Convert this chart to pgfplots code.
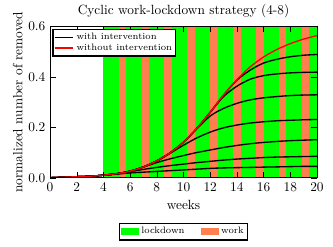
\documentclass[border=0pt]{standalone}
\usepackage{pgfplots}
\pgfplotsset{compat=1.18}
\definecolor{lgreen}{RGB}{0,255,0}
\definecolor{wcoral}{RGB}{255,127,80}
\begin{document}
\begin{tikzpicture}
\begin{axis}[
  name=main,
  scale only axis, width=200pt, height=113.3pt,
  xmin=0, xmax=20, ymin=0, ymax=0.6,
  xtick={0,2,...,20}, ytick={0,0.2,0.4,0.6},
  yticklabel style={/pgf/number format/.cd,fixed,fixed zerofill,precision=1},
  xlabel={weeks}, ylabel={normalized number of removed},
  ylabel style={yshift=-2.5pt},
  title={Cyclic work-lockdown strategy (4-8)},
  title style={yshift=-3pt},
  axis on top,
  tick style={black},
  legend cell align=left,
  legend style={at={(0.008,0.985)}, anchor=north west, font=\scriptsize,
    draw=black, line width=1pt, inner sep=0.8pt, row sep=-2.5pt},
  legend image code/.code={\draw[#1] (0pt,0pt) -- (14pt,0pt);},
]
% lockdown background
\addplot[fill=lgreen, draw=none, forget plot] coordinates {(4,0.6) (20,0.6)} \closedcycle;
% work stripes
\addplot[fill=wcoral, draw=none, forget plot] coordinates {(5.1429,0.6) (5.7143,0.6)} \closedcycle;
\addplot[fill=wcoral, draw=none, forget plot] coordinates {(6.8571,0.6) (7.4286,0.6)} \closedcycle;
\addplot[fill=wcoral, draw=none, forget plot] coordinates {(8.5714,0.6) (9.1429,0.6)} \closedcycle;
\addplot[fill=wcoral, draw=none, forget plot] coordinates {(10.2857,0.6) (10.8571,0.6)} \closedcycle;
\addplot[fill=wcoral, draw=none, forget plot] coordinates {(12,0.6) (12.5714,0.6)} \closedcycle;
\addplot[fill=wcoral, draw=none, forget plot] coordinates {(13.7143,0.6) (14.2857,0.6)} \closedcycle;
\addplot[fill=wcoral, draw=none, forget plot] coordinates {(15.4286,0.6) (16,0.6)} \closedcycle;
\addplot[fill=wcoral, draw=none, forget plot] coordinates {(17.1429,0.6) (17.7143,0.6)} \closedcycle;
\addplot[fill=wcoral, draw=none, forget plot] coordinates {(18.8571,0.6) (19.4286,0.6)} \closedcycle;
% with intervention
\addplot[black, line width=1pt, smooth] coordinates {(0,0) (1,0.002) (2,0.004) (3,0.006) (4,0.010) (5,0.016) (6,0.026) (7,0.043) (8,0.067) (9,0.099) (10,0.141) (11,0.196) (12,0.260) (13,0.328) (14,0.387) (15,0.427) (16,0.455) (17,0.470) (18,0.480) (19,0.486) (20,0.489)};
\addlegendentry{with intervention}
\addplot[black, line width=1pt, smooth, forget plot] coordinates {(0,0) (1,0.002) (2,0.004) (3,0.006) (4,0.010) (5,0.016) (6,0.026) (7,0.043) (8,0.067) (9,0.099) (10,0.141) (11,0.196) (12,0.259) (13,0.322) (14,0.363) (15,0.391) (16,0.405) (17,0.412) (18,0.416) (19,0.418) (20,0.419)};
\addplot[black, line width=1pt, smooth, forget plot] coordinates {(0,0) (1,0.002) (2,0.004) (3,0.006) (4,0.010) (5,0.016) (6,0.026) (7,0.043) (8,0.067) (9,0.099) (10,0.141) (11,0.194) (12,0.245) (13,0.275) (14,0.295) (15,0.309) (16,0.317) (17,0.322) (18,0.326) (19,0.328) (20,0.329)};
\addplot[black, line width=1pt, smooth, forget plot] coordinates {(0,0) (1,0.002) (2,0.004) (3,0.006) (4,0.010) (5,0.016) (6,0.026) (7,0.043) (8,0.066) (9,0.097) (10,0.129) (11,0.158) (12,0.181) (13,0.198) (14,0.209) (15,0.217) (16,0.222) (17,0.226) (18,0.228) (19,0.230) (20,0.231)};
\addplot[black, line width=1pt, smooth, forget plot] coordinates {(0,0) (1,0.002) (2,0.004) (3,0.006) (4,0.010) (5,0.016) (6,0.026) (7,0.042) (8,0.060) (9,0.075) (10,0.088) (11,0.100) (12,0.110) (13,0.120) (14,0.128) (15,0.135) (16,0.140) (17,0.144) (18,0.147) (19,0.149) (20,0.151)};
\addplot[black, line width=1pt, smooth, forget plot] coordinates {(0,0) (1,0.002) (2,0.004) (3,0.006) (4,0.010) (5,0.016) (6,0.024) (7,0.033) (8,0.041) (9,0.048) (10,0.054) (11,0.060) (12,0.065) (13,0.070) (14,0.074) (15,0.077) (16,0.080) (17,0.082) (18,0.083) (19,0.084) (20,0.085)};
\addplot[black, line width=1pt, smooth, forget plot] coordinates {(0,0) (1,0.002) (2,0.004) (3,0.006) (4,0.010) (5,0.014) (6,0.019) (7,0.022) (8,0.025) (9,0.028) (10,0.031) (11,0.034) (12,0.037) (13,0.039) (14,0.040) (15,0.041) (16,0.042) (17,0.043) (18,0.044) (19,0.045) (20,0.045)};
% without intervention
\addplot[red, line width=1pt, smooth] coordinates {(0,0) (1,0.002) (2,0.004) (3,0.006) (4,0.010) (5,0.016) (6,0.026) (7,0.043) (8,0.067) (9,0.099) (10,0.141) (11,0.196) (12,0.260) (13,0.328) (14,0.389) (15,0.440) (16,0.479) (17,0.509) (18,0.532) (19,0.550) (20,0.564)};
\addlegendentry{without intervention}
\end{axis}
\begin{axis}[
  scale only axis, width=200pt, height=113.3pt,
  xmin=0, xmax=20, ymin=0, ymax=0.6,
  hide axis,
  legend columns=2,
  legend style={at={(0.5,-0.298)}, anchor=north, font=\scriptsize,
    draw=black, line width=1pt, inner sep=1pt,
    /tikz/every even column/.append style={column sep=10pt}},
  legend image code/.code={\fill[#1] (0pt,-2.6pt) rectangle (13.5pt,2.6pt);},
]
\addlegendimage{fill=lgreen, draw=none}
\addlegendentry{lockdown}
\addlegendimage{fill=wcoral, draw=none}
\addlegendentry{work}
\end{axis}
\path ([xshift=-37.5pt,yshift=-51.8pt]main.south west) ([xshift=12pt,yshift=19.5pt]main.north east);
\end{tikzpicture}
\end{document}
